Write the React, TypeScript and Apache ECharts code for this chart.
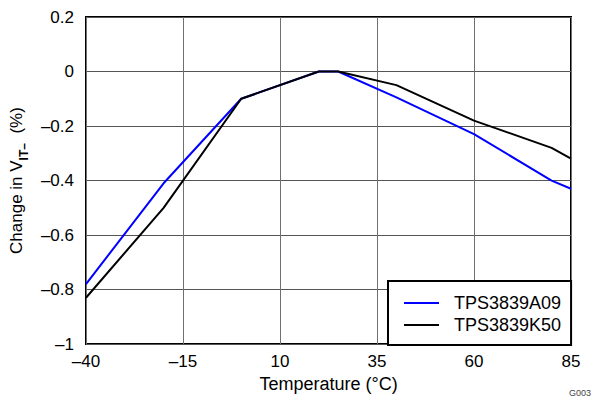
import React, { useEffect, useRef } from "react";
import * as echarts from "echarts";

const temperatures = [-40, -20, 0, 20, 25, 40, 60, 80, 85];
const seriesA09 = [-0.78, -0.41, -0.1, 0, 0, -0.095, -0.23, -0.4, -0.43];
const seriesK50 = [-0.83, -0.5, -0.1, 0, 0, -0.05, -0.18, -0.28, -0.32];
const seriesNames = ["TPS3839A09", "TPS3839K50"];
const xTicks = [-40, -15, 10, 35, 60, 85];
const yTicks = [-1, -0.8, -0.6, -0.4, -0.2, 0, 0.2];

const FONT = "'Liberation Sans', Arial, Helvetica, sans-serif";
const dash = (s: string) => s.replace("-", "\u2013");

export default function App() {
  const ref = useRef<HTMLDivElement>(null);
  useEffect(() => {
    if (!ref.current) return;
    const chart = echarts.init(ref.current, undefined, { renderer: "svg" });
    const pairs = (vals: number[]) => temperatures.map((t, i) => [t, vals[i]]);
    chart.setOption({
      animation: false,
      backgroundColor: "#fff",
      textStyle: { fontFamily: FONT, color: "#000" },
      grid: {
        left: 86,
        right: 20,
        top: 17,
        bottom: 52,
        show: true,
        borderColor: "#000",
        borderWidth: 2,
        backgroundColor: "transparent",
        containLabel: false,
      },
      xAxis: {
        type: "value",
        min: xTicks[0],
        max: xTicks[xTicks.length - 1],
        interval: 25,
        name: "Temperature (\u00b0C)",
        nameLocation: "middle",
        nameGap: 28,
        nameTextStyle: { fontSize: 18, color: "#000", fontFamily: FONT },
        axisLine: { show: false },
        axisTick: { show: false },
        axisLabel: {
          fontSize: 17,
          color: "#000",
          margin: 9,
          fontFamily: FONT,
          formatter: (v: number) => dash(String(v)),
        },
        splitLine: { show: true, lineStyle: { color: "#707070", width: 1 } },
      },
      yAxis: {
        type: "value",
        min: yTicks[0],
        max: yTicks[yTicks.length - 1],
        interval: 0.2,
        name: "{m|Change in V}{s|IT\u2013}{m|  (%)}",
        nameLocation: "middle",
        nameGap: 56,
        nameRotate: 90,
        nameTextStyle: {
          fontSize: 17,
          color: "#000",
          fontFamily: FONT,
          rich: {
            m: { fontSize: 17, fontFamily: FONT, color: "#000", lineHeight: 22, verticalAlign: "top" },
            s: { fontSize: 12, fontFamily: FONT, color: "#000", fontWeight: "bold", lineHeight: 22, verticalAlign: "bottom" },
          },
        },
        axisLine: { show: false },
        axisTick: { show: false },
        axisLabel: {
          fontSize: 17,
          color: "#000",
          margin: 12,
          fontFamily: FONT,
          formatter: (v: number) => dash(String(Math.round(v * 10) / 10)),
        },
        splitLine: { show: true, lineStyle: { color: "#555555", width: 1 } },
      },
      legend: {
        orient: "vertical",
        left: 388,
        top: 281,
        backgroundColor: "#fff",
        borderColor: "#000",
        borderWidth: 2,
        borderRadius: 0,
        padding: [12, 10, 10, 16],
        itemGap: 2,
        itemWidth: 35,
        itemHeight: 2,
        icon: "rect",
        textStyle: { fontSize: 18, color: "#000", fontFamily: FONT, lineHeight: 20, padding: [0, 0, 0, 10] },
        data: seriesNames,
      },
      graphic: [
        {
          type: "text",
          left: 569,
          top: 388,
          style: { text: "G003", fontSize: 9, fill: "#444", fontFamily: FONT },
        },
      ],
      series: [
        {
          name: seriesNames[0],
          type: "line",
          data: pairs(seriesA09),
          showSymbol: false,
          symbol: "none",
          lineStyle: { color: "#0000ff", width: 2 },
          itemStyle: { color: "#0000ff" },
          z: 3,
        },
        {
          name: seriesNames[1],
          type: "line",
          data: pairs(seriesK50),
          showSymbol: false,
          symbol: "none",
          lineStyle: { color: "#000000", width: 2 },
          itemStyle: { color: "#000000" },
          z: 4,
        },
      ],
    });
    return () => chart.dispose();
  }, []);
  return (
    <div
      ref={ref}
      style={{ position: "fixed", left: 0, top: 0, width: 591, height: 398 }}
    />
  );
}
